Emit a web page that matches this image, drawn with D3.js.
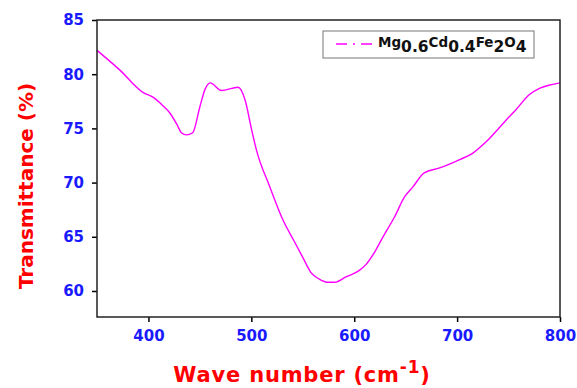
<!DOCTYPE html>
<html>
<head>
<meta charset="utf-8">
<script src="https://cdn.jsdelivr.net/npm/d3@7"></script>
<style>
  body { margin: 0; background: #fff; }
  text { font-family: "DejaVu Sans", Verdana, sans-serif; font-weight: bold; }
</style>
</head>
<body>
<div id="chart"></div>
<script>
// FTIR spectrum
const waveNumbers = [350, 372, 395, 404, 414, 421, 428, 432, 437, 443, 450, 455, 460, 471, 487, 494, 500, 505,
  518, 531, 541, 550, 558, 566, 575, 581, 592, 605, 612, 618, 628, 639, 649, 657, 668, 683, 702, 715, 728, 748,
  757, 770, 780, 790, 800];
const transmittance = [82.2, 80.4, 78.3, 77.9, 77.1, 76.4, 75.3, 74.6, 74.4, 74.6, 77.0, 78.6, 79.2, 78.5, 78.8, 77.6,
  75.0, 73.0, 69.6, 66.5, 64.7, 63.1, 61.7, 61.1, 60.8, 60.8, 61.3, 61.9, 62.5, 63.3, 65.0, 66.8, 68.7, 69.6, 70.9,
  71.35, 72.1, 72.7, 73.75, 75.8, 76.7, 78.1, 78.7, 79.0, 79.2];
const xTicks = [400, 500, 600, 700, 800];
const yTicks = [60, 65, 70, 75, 80, 85];

const width = 577, height = 388;
const margin = {top: 20, right: 17, bottom: 71, left: 97};

const svg = d3.select('#chart').append('svg')
  .attr('width', width)
  .attr('height', height);

const x = d3.scaleLinear().domain([350, 800]).range([margin.left, width - margin.right]);
const y = d3.scaleLinear().domain([57.6, 85]).range([height - margin.bottom, margin.top]);

const data = waveNumbers.map((w, i) => ({w: w, t: transmittance[i]}));

/*曲线*/
const line = d3.line()
  .x(d => x(d.w))
  .y(d => y(d.t))
  .curve(d3.curveMonotoneX);

svg.append('path')
  .datum(data)
  .attr('d', line)
  .attr('fill', 'none')
  .attr('stroke', '#ff00ff')
  .attr('stroke-width', 1.4);

/*坐标轴*/
const xAxis = svg.append('g')
  .attr('transform', `translate(0,${height - margin.bottom})`)
  .call(d3.axisBottom(x).tickValues(xTicks).tickSize(5).tickPadding(8));

const yAxis = svg.append('g')
  .attr('transform', `translate(${margin.left},0)`)
  .call(d3.axisLeft(y).tickValues(yTicks).tickSize(5).tickPadding(8));

[xAxis, yAxis].forEach(g => {
  g.select('.domain').remove();
  g.selectAll('line').attr('stroke', '#000').attr('stroke-width', 1.5);
  g.selectAll('text')
    .attr('fill', '#1a1aff')
    .style('font-size', '15px')
    .style('font-family', '"DejaVu Sans", Verdana, sans-serif')
    .style('font-weight', 'bold');
});

// frame
svg.append('rect')
  .attr('x', margin.left)
  .attr('y', margin.top)
  .attr('width', width - margin.right - margin.left)
  .attr('height', height - margin.bottom - margin.top)
  .attr('fill', 'none')
  .attr('stroke', '#222')
  .attr('stroke-width', 1.5);

/*标题*/
const xTitle = svg.append('text')
  .attr('x', 302)
  .attr('y', 382)
  .attr('text-anchor', 'middle')
  .attr('fill', '#ff0000')
  .style('font-size', '21px')
  .style('letter-spacing', '0.8px');
xTitle.append('tspan').text('Wave number (cm');
xTitle.append('tspan').text('-1').attr('dy', -9).style('font-size', '17px');
xTitle.append('tspan').text(')').attr('dy', 9);

svg.append('text')
  .attr('transform', 'translate(33,186) rotate(-90)')
  .attr('text-anchor', 'middle')
  .attr('fill', '#ff0000')
  .style('font-size', '20px')
  .text('Transmittance (%)');

/*图例*/
const legend = svg.append('g');
legend.append('rect')
  .attr('x', 323).attr('y', 31)
  .attr('width', 211).attr('height', 27)
  .attr('fill', '#fff')
  .attr('stroke', '#777')
  .attr('stroke-width', 1);
legend.append('line')
  .attr('x1', 336).attr('x2', 372)
  .attr('y1', 44).attr('y2', 44)
  .attr('stroke', '#ff00ff')
  .attr('stroke-width', 1.5)
  .attr('stroke-dasharray', '11,6,2,6');

const formula = [['Mg', 0], ['0.6', 1], ['Cd', 0], ['0.4', 1], ['Fe', 0], ['2', 1], ['O', 0], ['4', 1]];
const lt = legend.append('text')
  .attr('x', 378)
  .attr('y', 47)
  .attr('fill', '#111')
  .style('font-size', '13.5px');
let prev = 0;
formula.forEach(([s, sub]) => {
  lt.append('tspan')
    .text(s)
    .attr('dy', (sub - prev) * 5)
    .style('font-size', sub ? '15.5px' : '13.5px');
  prev = sub;
});
</script>
</body>
</html>
